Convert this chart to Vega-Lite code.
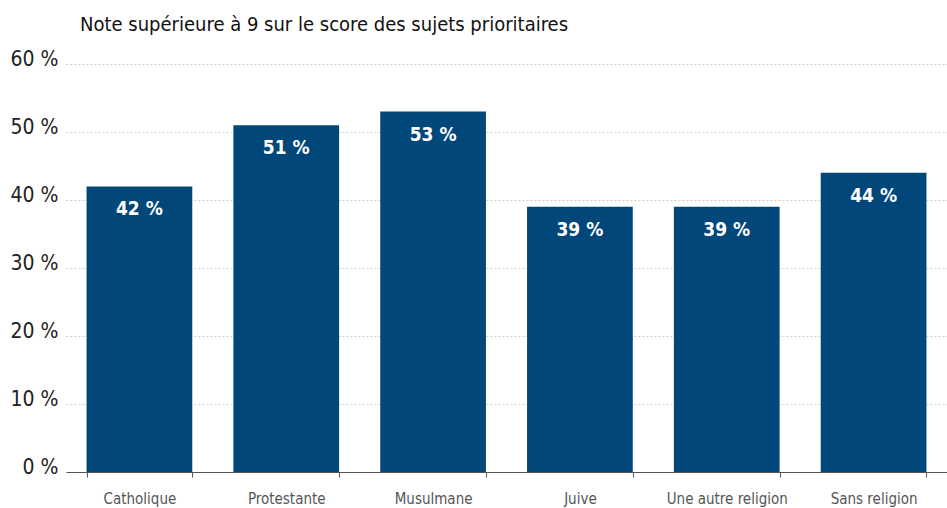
{
  "$schema": "https://vega.github.io/schema/vega-lite/v6.json",
  "width": 881,
  "height": 408,
  "autosize": {"type": "none"},
  "padding": {"left": 66, "top": 64, "right": 0, "bottom": 36},
  "background": "white",
  "title": {
    "text": "Note supérieure à 9 sur le score des sujets prioritaires",
    "anchor": "start",
    "frame": "group",
    "orient": "top",
    "dx": 14,
    "offset": 13,
    "font": "DejaVu Sans Condensed",
    "fontSize": 20,
    "fontWeight": "normal",
    "color": "#111111"
  },
  "config": {
    "view": {"stroke": null},
    "font": "DejaVu Sans Condensed"
  },
  "data": {
    "values": [
      {"religion": "Catholique", "value": 42, "label": "42 %"},
      {"religion": "Protestante", "value": 51, "label": "51 %"},
      {"religion": "Musulmane", "value": 53, "label": "53 %"},
      {"religion": "Juive", "value": 39, "label": "39 %"},
      {"religion": "Une autre religion", "value": 39, "label": "39 %"},
      {"religion": "Sans religion", "value": 44, "label": "44 %"}
    ]
  },
  "encoding": {
    "x": {
      "field": "religion",
      "type": "nominal",
      "sort": null,
      "scale": {"paddingInner": 0.28, "paddingOuter": 0.14},
      "axis": {
        "title": null,
        "labelAngle": 0,
        "labelFont": "DejaVu Sans Condensed",
        "labelFontSize": 15,
        "labelColor": "#555555",
        "labelPadding": 14,
        "domainColor": "#555555",
        "domainWidth": 1,
        "tickColor": "#555555",
        "tickSize": 5,
        "tickBand": "extent",
        "grid": false
      }
    },
    "y": {
      "field": "value",
      "type": "quantitative",
      "scale": {"domain": [0, 60]},
      "axis": {
        "title": null,
        "values": [0, 10, 20, 30, 40, 50, 60],
        "labelExpr": "datum.value + ' %'",
        "labelFont": "DejaVu Sans Condensed",
        "labelFontSize": 21,
        "labelColor": "#222222",
        "labelBaseline": "alphabetic",
        "labelOffset": 1,
        "labelPadding": 8,
        "ticks": false,
        "domain": false,
        "grid": true,
        "gridColor": "#cccccc",
        "gridDash": [2, 2],
        "gridWidth": 1
      }
    }
  },
  "layer": [
    {"mark": {"type": "bar", "color": "#02477A"}},
    {
      "mark": {
        "type": "text",
        "color": "white",
        "font": "DejaVu Sans Condensed",
        "fontWeight": "bold",
        "fontSize": 19,
        "baseline": "middle",
        "dy": 23
      },
      "encoding": {"text": {"field": "label"}}
    }
  ]
}
